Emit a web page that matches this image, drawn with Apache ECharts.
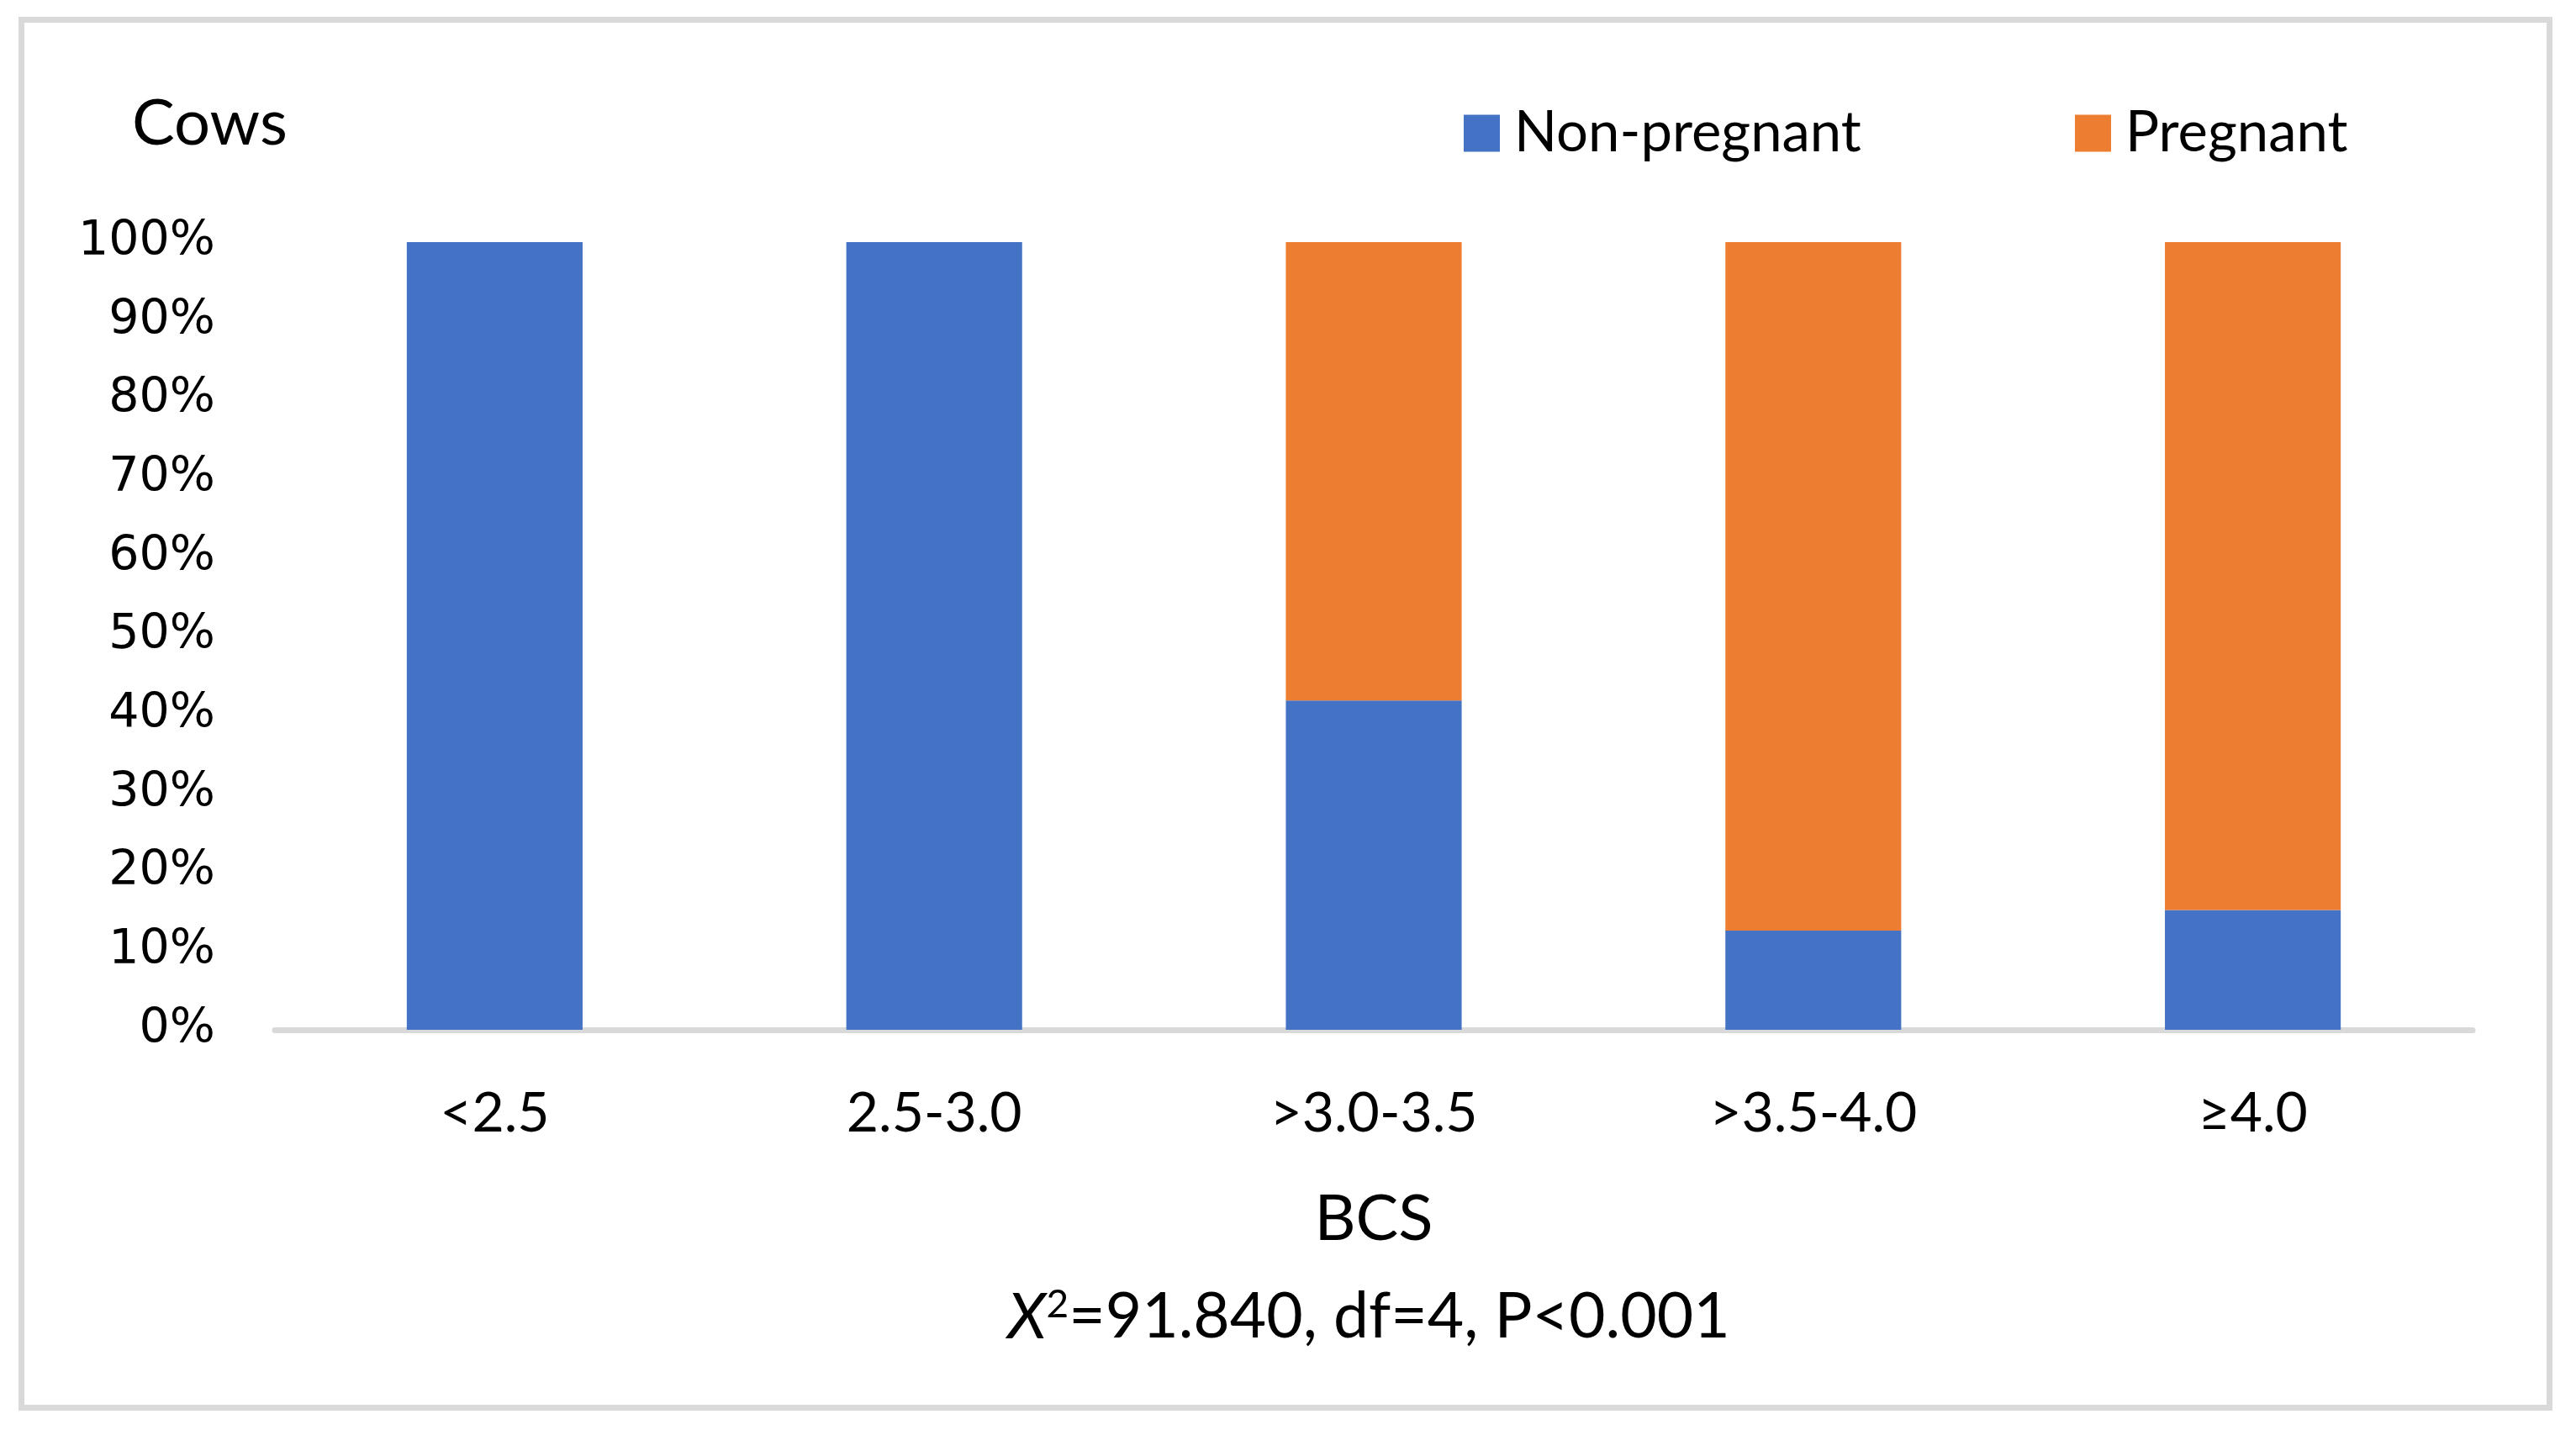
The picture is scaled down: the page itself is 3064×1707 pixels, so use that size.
<!DOCTYPE html>
<html>
<head>
<meta charset="utf-8">
<script src="https://cdn.jsdelivr.net/npm/echarts@6/dist/echarts.min.js"></script>
<style>
html,body{margin:0;padding:0;background:#fff;}
#c{width:3064px;height:1707px;}
</style>
</head>
<body>
<div id="c"></div>
<script>
const categories = ['<2.5', '2.5-3.0', '>3.0-3.5', '>3.5-4.0', '≥4.0'];
const nonPregnant = [100, 100, 41.8, 12.6, 15.2];
const pregnant = [0, 0, 58.2, 87.4, 84.8];
const yTicks = [0, 10, 20, 30, 40, 50, 60, 70, 80, 90, 100];
const seriesNames = ['Non-pregnant', 'Pregnant'];
const colors = ['#4472C4', '#ED7D31'];

const sansFont = 'Lato, "Open Sans", sans-serif';
const tickFont = '"DejaVu Sans", Verdana, sans-serif';

const chart = echarts.init(document.getElementById('c'), null, {renderer: 'canvas'});
chart.setOption({
  animation: false,
  backgroundColor: '#fff',
  color: colors,
  grid: {left: 327, right: 123, top: 288, bottom: 482, containLabel: false},
  legend: [
    {
      data: [seriesNames[0]], left: 1736, top: 120, itemWidth: 43, itemHeight: 44, itemGap: 0,
      icon: 'rect',
      textStyle: {fontFamily: sansFont, fontSize: 67, color: '#000', padding: [0, 0, 0, 12]}
    },
    {
      data: [seriesNames[1]], left: 2463, top: 120, itemWidth: 43, itemHeight: 44, itemGap: 0,
      icon: 'rect',
      textStyle: {fontFamily: sansFont, fontSize: 67, color: '#000', padding: [0, 0, 0, 12]}
    }
  ],
  xAxis: {
    type: 'category',
    data: categories,
    axisLine: {show: true, lineStyle: {color: '#d9d9d9', width: 7}},
    axisTick: {show: false},
    axisLabel: {fontFamily: sansFont, fontSize: 66, color: '#000', margin: 67},
    splitLine: {show: false}
  },
  yAxis: {
    type: 'value',
    min: 0, max: 100, interval: 10,
    axisLine: {show: false},
    axisTick: {show: false},
    splitLine: {show: false},
    axisLabel: {
      fontFamily: tickFont, fontSize: 57, color: '#000', margin: 71,
      verticalAlign: 'middle', padding: [0, 0, 0, 0], lineHeight: 50,
      formatter: function (v) { return yTicks.indexOf(v) >= 0 ? v + '%' : ''; }
    }
  },
  series: [
    {name: seriesNames[0], type: 'bar', stack: 'total', barWidth: '40%', data: nonPregnant,
     itemStyle: {color: colors[0]}},
    {name: seriesNames[1], type: 'bar', stack: 'total', barWidth: '40%', data: pregnant,
     itemStyle: {color: colors[1]}}
  ],
  graphic: [
    {type: 'rect', shape: {x: 25.5, y: 23.5, width: 3007, height: 1651},
     style: {fill: 'none', stroke: '#d9d9d9', lineWidth: 7}, z: 0, silent: true},
    {type: 'text', x: 157, y: 147,
     style: {text: 'Cows', fontFamily: sansFont, fontSize: 76, fill: '#000', textAlign: 'left', textVerticalAlign: 'middle'}},
    {type: 'text', x: 1634, y: 1450,
     style: {text: 'BCS', fontFamily: sansFont, fontSize: 76, fill: '#000', textAlign: 'center', textVerticalAlign: 'middle'}},
    {type: 'text', x: 1628, y: 1567,
     style: {
       text: '{i|X}{sup|2}{n|=91.840, df=4, P<0.001}',
       textAlign: 'center', textVerticalAlign: 'middle',
       rich: {
         i: {fontFamily: sansFont, fontSize: 76, fontStyle: 'italic', fill: '#000'},
         sup: {fontFamily: sansFont, fontSize: 46, fill: '#000', verticalAlign: 'top', padding: [0, 0, 28, 0]},
         n: {fontFamily: sansFont, fontSize: 75, fill: '#000'}
       }
     }}
  ]
});
</script>
</body>
</html>
